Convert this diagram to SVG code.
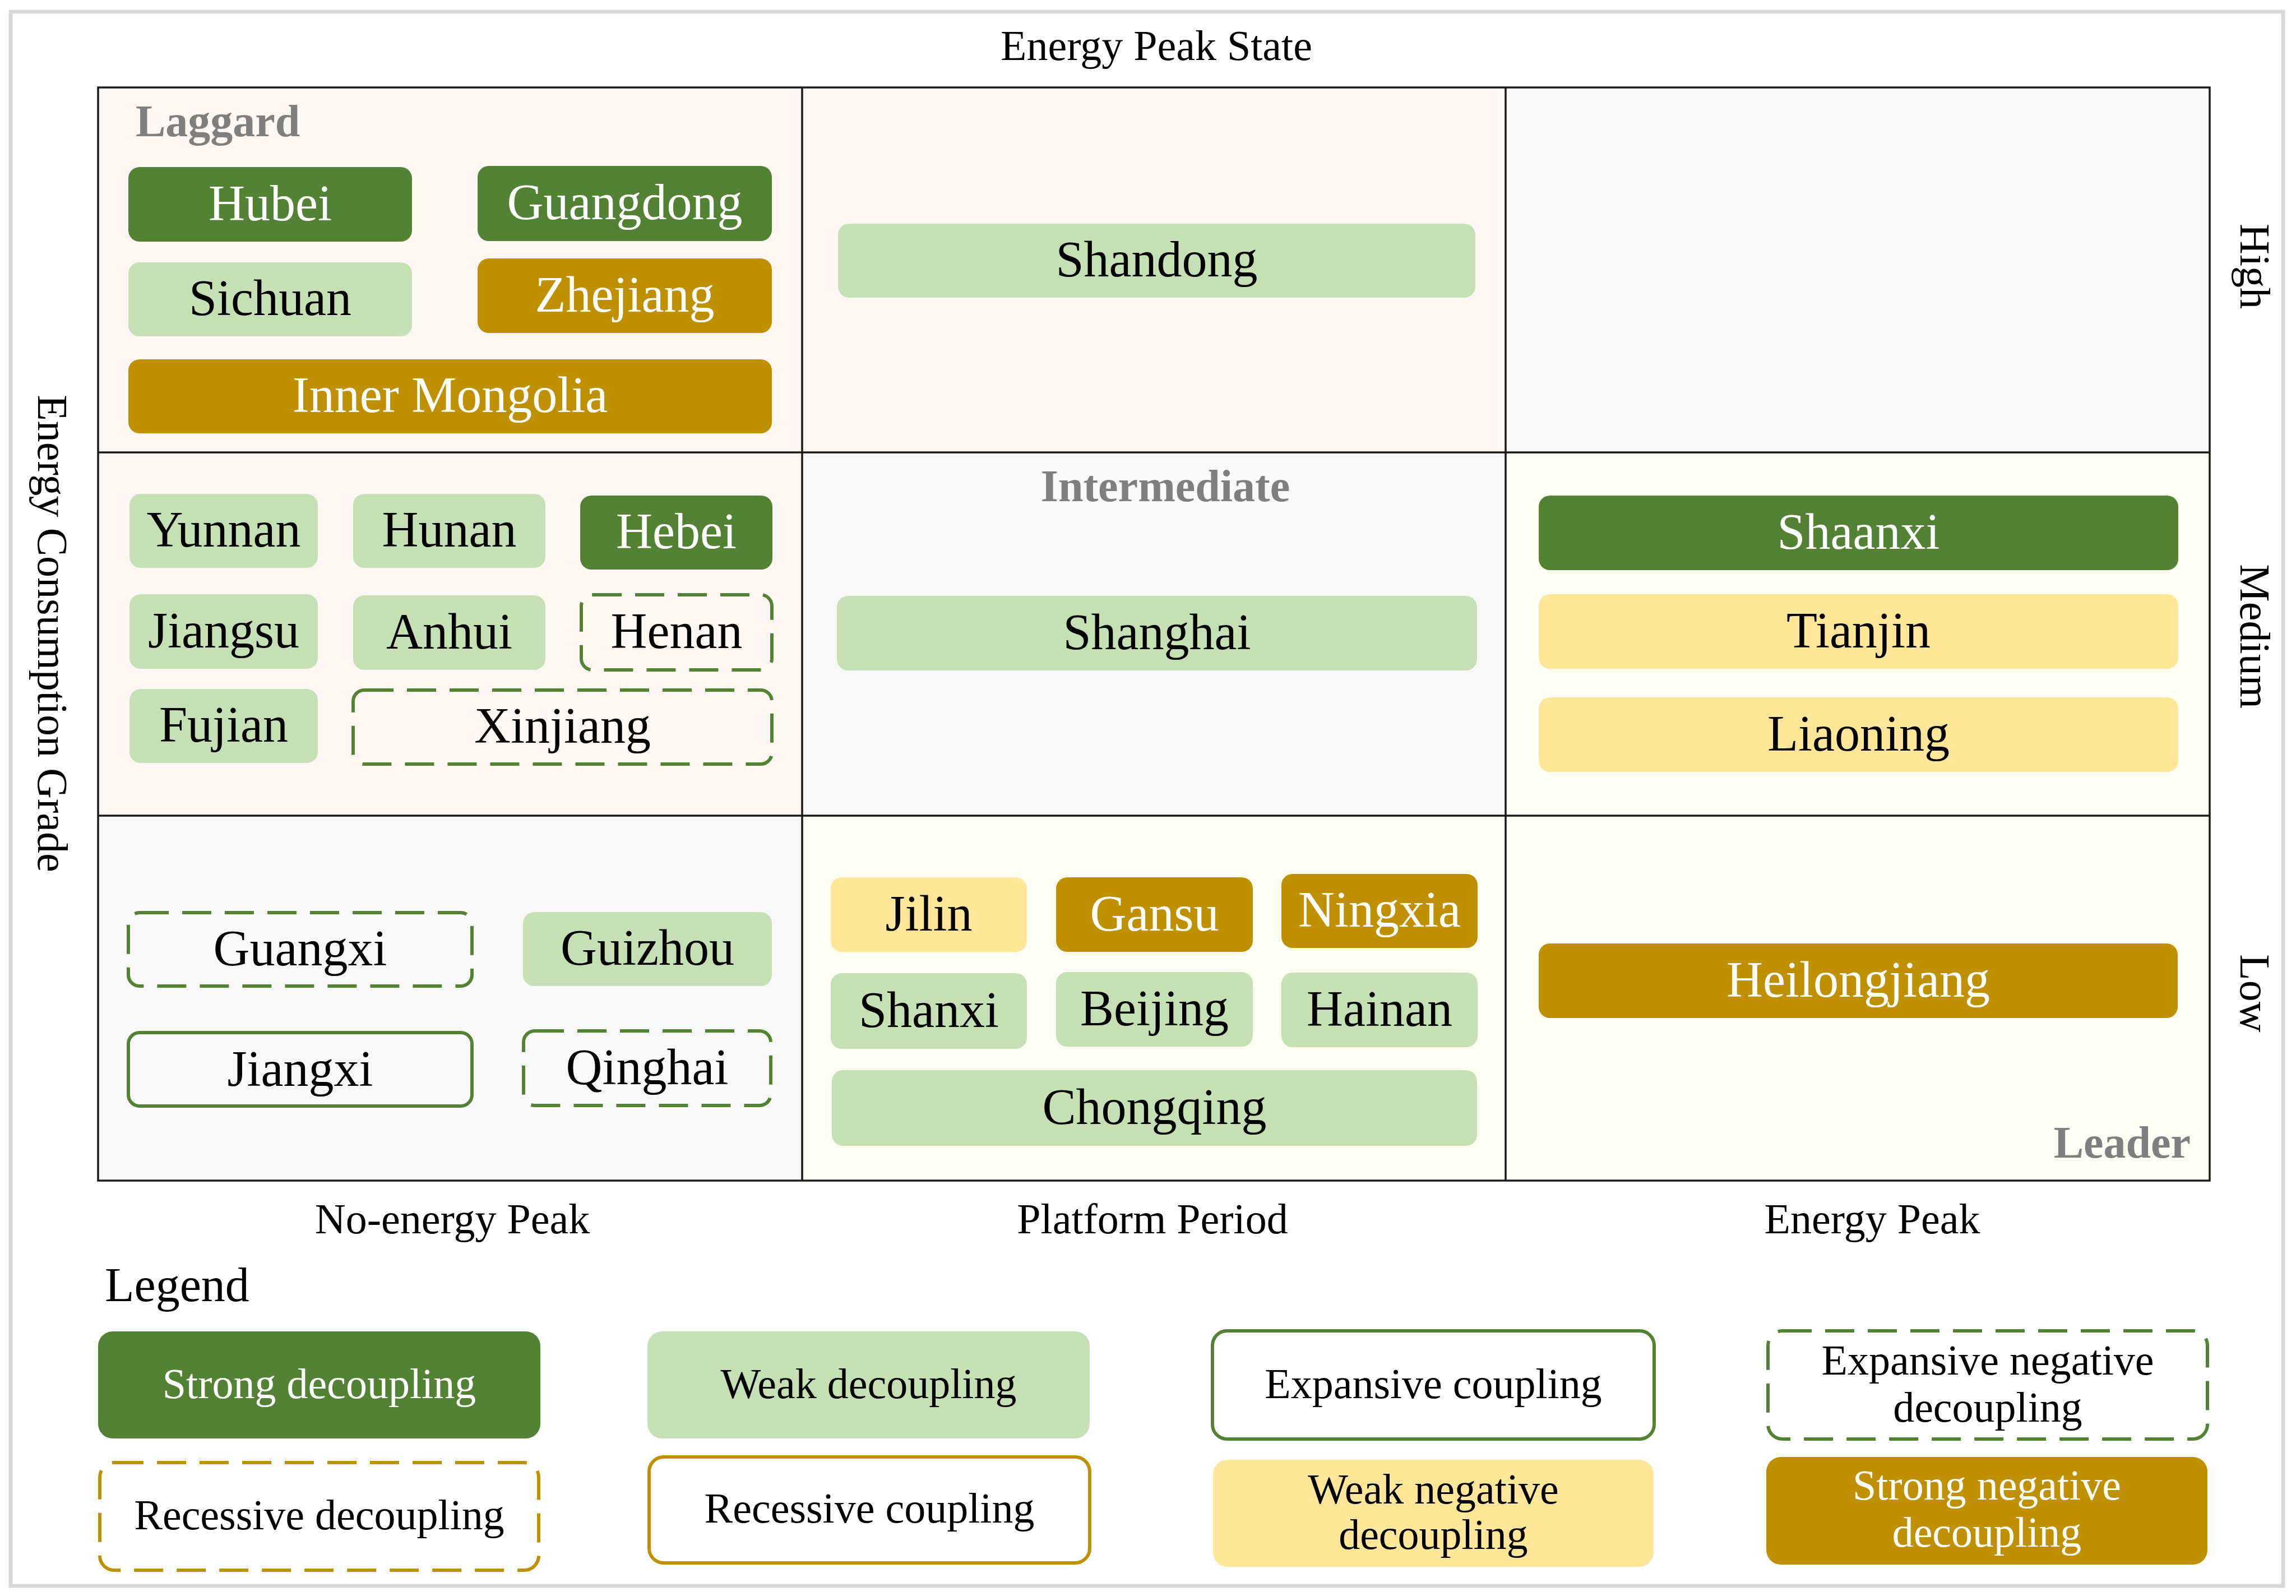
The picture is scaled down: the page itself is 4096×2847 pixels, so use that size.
<svg xmlns="http://www.w3.org/2000/svg" width="4096" height="2847" viewBox="0 0 4096 2847">
<style>
text{font-family:'Liberation Serif','Times New Roman',serif;}
.n{font-size:90px;text-anchor:middle;}
.lg{font-size:76px;text-anchor:middle;}
.ax{font-size:76px;fill:#000;}
.cat{font-size:80px;font-weight:bold;fill:#7f7f7f;}
.w{fill:#ffffff;}
.k{fill:#000000;}
.sd{fill:#548235;}
.wd{fill:#c5e0b4;}
.wnd{fill:#ffe699;}
.snd{fill:#bf9000;}
.ec{fill:none;stroke:#548235;stroke-width:6;}
.end{fill:none;stroke:#548235;stroke-width:6;stroke-dasharray:52 24;}
.rc{fill:none;stroke:#bf9000;stroke-width:6;}
.rd{fill:none;stroke:#bf9000;stroke-width:6;stroke-dasharray:52 24;}
.pink{fill:#fcf7f3;}
.gray{fill:#f8f8f9;}
.yel{fill:#fefef2;}
.gl{stroke:#1a1a1a;stroke-width:3.5;fill:none;}
</style>
<rect x="0" y="0" width="4096" height="2847" fill="#ffffff"/>
<rect x="19" y="21" width="4054" height="2808" fill="#ffffff" stroke="#d9d9d9" stroke-width="7"/>

<g id="grid">
<rect class="pink" x="175" y="156" width="1256" height="651"/>
<rect class="pink" x="1431" y="156" width="1255" height="651"/>
<rect class="gray" x="2686" y="156" width="1256" height="651"/>
<rect class="pink" x="175" y="807" width="1256" height="648"/>
<rect class="gray" x="1431" y="807" width="1255" height="648"/>
<rect class="yel" x="2686" y="807" width="1256" height="648"/>
<rect class="gray" x="175" y="1455" width="1256" height="651"/>
<rect class="yel" x="1431" y="1455" width="1255" height="651"/>
<rect class="yel" x="2686" y="1455" width="1256" height="651"/>
<path class="gl" d="M1431 156V2106M2686 156V2106M175 807H3942M175 1455H3942"/>
<rect class="gl" x="175" y="156" width="3767" height="1950" stroke-width="4"/>
</g>

<g id="axis-labels">
<text class="ax" x="2063" y="107" text-anchor="middle">Energy Peak State</text>
<text class="ax" x="807" y="2200" text-anchor="middle">No-energy Peak</text>
<text class="ax" x="2056" y="2200" text-anchor="middle">Platform Period</text>
<text class="ax" x="3340" y="2200" text-anchor="middle">Energy Peak</text>
<text class="ax" transform="translate(68,1130) rotate(90)" text-anchor="middle">Energy Consumption Grade</text>
<text class="ax" transform="translate(3997,475) rotate(90)" text-anchor="middle">High</text>
<text class="ax" transform="translate(3997,1135) rotate(90)" text-anchor="middle">Medium</text>
<text class="ax" transform="translate(3997,1772) rotate(90)" text-anchor="middle">Low</text>
</g>

<g id="categories">
<text class="cat" x="242" y="243">Laggard</text>
<text class="cat" x="2079" y="894" text-anchor="middle">Intermediate</text>
<text class="cat" x="3908" y="2065" text-anchor="end">Leader</text>
</g>

<g id="connectors"></g>

<g id="node-hubei"><rect class="sd" x="229" y="298" width="506" height="133" rx="20"/><text class="n w" x="482" y="393">Hubei</text></g>
<g id="node-guangdong"><rect class="sd" x="852" y="296" width="525" height="134" rx="20"/><text class="n w" x="1114.5" y="391">Guangdong</text></g>
<g id="node-sichuan"><rect class="wd" x="229" y="468" width="506" height="132" rx="20"/><text class="n k" x="482" y="562">Sichuan</text></g>
<g id="node-zhejiang"><rect class="snd" x="852" y="461" width="525" height="133" rx="20"/><text class="n w" x="1114.5" y="555.5">Zhejiang</text></g>
<g id="node-innermongolia"><rect class="snd" x="229" y="641" width="1148" height="132" rx="20"/><text class="n w" x="803" y="735">Inner Mongolia</text></g>
<g id="node-shandong"><rect class="wd" x="1495" y="399" width="1137" height="132" rx="20"/><text class="n k" x="2063.5" y="493">Shandong</text></g>

<g id="node-yunnan"><rect class="wd" x="231" y="881" width="336" height="132" rx="20"/><text class="n k" x="399" y="975">Yunnan</text></g>
<g id="node-hunan"><rect class="wd" x="630" y="881" width="343" height="132" rx="20"/><text class="n k" x="801.5" y="975">Hunan</text></g>
<g id="node-hebei"><rect class="sd" x="1035" y="884" width="343" height="132" rx="20"/><text class="n w" x="1206.5" y="978">Hebei</text></g>
<g id="node-jiangsu"><rect class="wd" x="231" y="1060" width="336" height="133" rx="20"/><text class="n k" x="399" y="1154.5">Jiangsu</text></g>
<g id="node-anhui"><rect class="wd" x="630" y="1062" width="343" height="133" rx="20"/><text class="n k" x="801.5" y="1156.5">Anhui</text></g>
<g id="node-henan"><rect class="end" x="1037" y="1061" width="340" height="134" rx="20"/><text class="n k" x="1207" y="1156">Henan</text></g>
<g id="node-fujian"><rect class="wd" x="231" y="1229" width="336" height="132" rx="20"/><text class="n k" x="399" y="1323">Fujian</text></g>
<g id="node-xinjiang"><rect class="end" x="630" y="1231" width="747" height="132" rx="20"/><text class="n k" x="1003.5" y="1325">Xinjiang</text></g>
<g id="node-shanghai"><rect class="wd" x="1493" y="1063" width="1142" height="133" rx="20"/><text class="n k" x="2064" y="1157.5">Shanghai</text></g>
<g id="node-shaanxi"><rect class="sd" x="2745" y="884" width="1141" height="133" rx="20"/><text class="n w" x="3315.5" y="978.5">Shaanxi</text></g>
<g id="node-tianjin"><rect class="wnd" x="2745" y="1060" width="1141" height="133" rx="20"/><text class="n k" x="3315.5" y="1154.5">Tianjin</text></g>
<g id="node-liaoning"><rect class="wnd" x="2745" y="1244" width="1141" height="133" rx="20"/><text class="n k" x="3315.5" y="1338.5">Liaoning</text></g>

<g id="node-guangxi"><rect class="end" x="229" y="1628" width="613" height="131" rx="20"/><text class="n k" x="535.5" y="1721.5">Guangxi</text></g>
<g id="node-guizhou"><rect class="wd" x="933" y="1627" width="444" height="132" rx="20"/><text class="n k" x="1155" y="1721">Guizhou</text></g>
<g id="node-jiangxi"><rect class="ec" x="229" y="1842" width="613" height="131" rx="20"/><text class="n k" x="535.5" y="1936.5">Jiangxi</text></g>
<g id="node-qinghai"><rect class="end" x="934" y="1839" width="441" height="133" rx="20"/><text class="n k" x="1154.5" y="1933.5">Qinghai</text></g>
<g id="node-jilin"><rect class="wnd" x="1482" y="1565" width="350" height="133" rx="20"/><text class="n k" x="1657" y="1659.5">Jilin</text></g>
<g id="node-gansu"><rect class="snd" x="1884" y="1565" width="351" height="133" rx="20"/><text class="n w" x="2059.5" y="1659.5">Gansu</text></g>
<g id="node-ningxia"><rect class="snd" x="2286" y="1559" width="350" height="132" rx="20"/><text class="n w" x="2461" y="1653">Ningxia</text></g>
<g id="node-shanxi"><rect class="wd" x="1482" y="1736" width="350" height="135" rx="20"/><text class="n k" x="1657" y="1831.5">Shanxi</text></g>
<g id="node-beijing"><rect class="wd" x="1884" y="1734" width="351" height="133" rx="20"/><text class="n k" x="2059.5" y="1828.5">Beijing</text></g>
<g id="node-hainan"><rect class="wd" x="2286" y="1735" width="350" height="133" rx="20"/><text class="n k" x="2461" y="1829.5">Hainan</text></g>
<g id="node-chongqing"><rect class="wd" x="1484" y="1909" width="1151" height="135" rx="20"/><text class="n k" x="2059.5" y="2004.5">Chongqing</text></g>
<g id="node-heilongjiang"><rect class="snd" x="2745" y="1683" width="1140" height="133" rx="20"/><text class="n w" x="3315" y="1777.5">Heilongjiang</text></g>

<g id="legend">
<text x="187" y="2321" font-size="86" fill="#000">Legend</text>
<g id="legend-strong-decoupling"><rect class="sd" x="175" y="2375" width="789" height="191" rx="26"/><text class="lg w" x="569.5" y="2494">Strong decoupling</text></g>
<g id="legend-weak-decoupling"><rect class="wd" x="1155" y="2375" width="789" height="191" rx="26"/><text class="lg k" x="1549.5" y="2494">Weak decoupling</text></g>
<g id="legend-expansive-coupling"><rect class="ec" x="2163" y="2374" width="788" height="193" rx="26" style="fill:#fff"/><text class="lg k" x="2557" y="2494">Expansive coupling</text></g>
<g id="legend-expansive-negative-decoupling"><rect class="end" x="3154" y="2374" width="784" height="193" rx="26" style="fill:#fff"/><text class="lg k" x="3546" y="2452">Expansive negative</text><text class="lg k" x="3546" y="2536">decoupling</text></g>
<g id="legend-recessive-decoupling"><rect class="rd" x="178" y="2609" width="783" height="192" rx="26" style="fill:#fff"/><text class="lg k" x="569.5" y="2728">Recessive decoupling</text></g>
<g id="legend-recessive-coupling"><rect class="rc" x="1158" y="2599" width="786" height="189" rx="26" style="fill:#fff"/><text class="lg k" x="1551" y="2716">Recessive coupling</text></g>
<g id="legend-weak-negative-decoupling"><rect class="wnd" x="2164" y="2604" width="786" height="191" rx="26"/><text class="lg k" x="2557" y="2682">Weak negative</text><text class="lg k" x="2557" y="2763">decoupling</text></g>
<g id="legend-strong-negative-decoupling"><rect class="snd" x="3151" y="2599" width="787" height="192" rx="26"/><text class="lg w" x="3544.5" y="2675">Strong negative</text><text class="lg w" x="3544.5" y="2759">decoupling</text></g>
</g>
</svg>
